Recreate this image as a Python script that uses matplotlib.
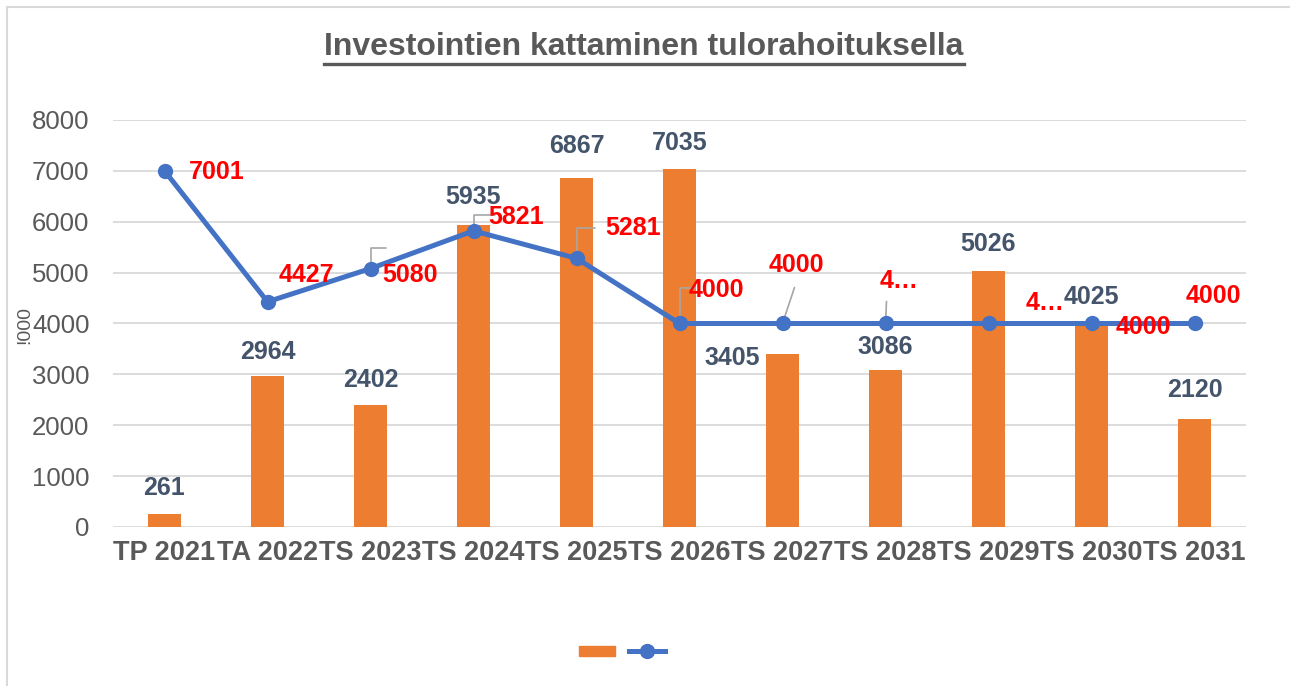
import numpy as np
import matplotlib
matplotlib.use("Agg")
import matplotlib.pyplot as plt
from matplotlib.patches import Rectangle, Patch
from matplotlib.lines import Line2D

# data
kategoriat = ["TP 2021", "TA 2022", "TS 2023", "TS 2024", "TS 2025", "TS 2026",
              "TS 2027", "TS 2028", "TS 2029", "TS 2030", "TS 2031"]
investoinnit = [261, 2964, 2402, 5935, 6867, 7035, 3405, 3086, 5026, 4025, 2120]
tulorahoitus = [7001, 4427, 5080, 5821, 5281, 4000, 4000, 4000, 4000, 4000, 4000]
viiva_tekstit = ["7001", "4427", "5080", "5821", "5281", "4000", "4000", "4…", "4…", "4000", "4000"]

# label offsets in pixels (x, y up)
pylvas_siirto = [(0, 26), (0, 24), (0, 25), (0, 28), (0, 32), (0, 26),
                 (-50, -4), (0, 23), (0, 27), (0, 25), (0, 29)]
viiva_siirto = [(52, -1), (39, 27), (40, -6), (43, 14), (57, 30), (37, 33),
                (14, 58), (14, 42), (57, 20), (52, -4), (19, 27)]
# leader lines: index -> (start offset, elbow?)
johtoviivat = {2: ((15, 21), True), 3: ((21, 16), True), 4: ((18, 30), True),
               5: ((15, 35), True), 6: ((12, 36), False), 7: ((1, 22), False)}

plt.rcParams['font.family'] = ['Liberation Sans', 'DejaVu Sans']

fig = plt.figure(figsize=(12.9, 6.86), dpi=100)
ax = fig.add_axes([113/1290, 1-527/686, (1246-113)/1290, (527-120)/686])

x = np.arange(len(kategoriat))
ax.bar(x, investoinnit, width=0.32, color='#ED7D31', zorder=2)
ax.plot(x, tulorahoitus, color='#4472C4', lw=3.6, marker='o', markersize=10,
        solid_capstyle='round', zorder=4)

ax.set_xlim(-0.5, len(kategoriat) - 0.5)
ax.set_ylim(0, 8000)
ax.set_yticks(range(0, 8001, 1000))
ax.yaxis.grid(True, color='#D9D9D9', lw=1.3)
ax.set_axisbelow(True)
for s in ax.spines.values():
    s.set_visible(False)
ax.tick_params(axis='both', length=0)
ax.tick_params(axis='y', labelsize=18.5, labelcolor='#595959', pad=17)
ax.set_xticks(x)
ax.set_xticklabels(kategoriat, fontsize=19.5, fontweight='bold', color='#595959')
ax.tick_params(axis='x', pad=9)

for i, v in enumerate(investoinnit):
    ax.annotate(str(v), (x[i], v), xytext=pylvas_siirto[i], textcoords='offset pixels',
                ha='center', va='center', fontsize=18, fontweight='bold',
                color='#44546A', zorder=5)

for i, (alku, kulma) in johtoviivat.items():
    cs = 'angle,angleA=0,angleB=90,rad=0' if kulma else 'arc3'
    ax.annotate('', (x[i], tulorahoitus[i]), xytext=alku, textcoords='offset pixels',
                arrowprops=dict(arrowstyle='-', color='#A6A6A6', lw=1.2,
                                shrinkA=0, shrinkB=0, connectionstyle=cs),
                zorder=3)

for i, v in enumerate(tulorahoitus):
    ax.annotate(viiva_tekstit[i], (x[i], v), xytext=viiva_siirto[i], textcoords='offset pixels',
                ha='center', va='center', fontsize=18, fontweight='bold',
                color='#FF0000', zorder=6)

# title with underline
otsikko = fig.text(644/1290, 1-47/686, "Investointien kattaminen tulorahoituksella",
                   ha='center', va='center', fontsize=23, fontweight='bold', color='#595959')
fig.canvas.draw()
bb = otsikko.get_window_extent().transformed(fig.transFigure.inverted())
fig.add_artist(Line2D([bb.x0, bb.x1], [1-64/686, 1-64/686], color='#595959', lw=2.4,
                      transform=fig.transFigure))

fig.text(25/1290, 1-325/686, "!000", rotation=90, ha='center', va='center',
         fontsize=14, color='#595959')

kasvot = [Patch(color='#ED7D31'),
          Line2D([], [], color='#4472C4', lw=3.6, marker='o', markersize=10)]
fig.legend(kasvot, ['', ''], loc='center', bbox_to_anchor=(622/1290, 1-652/686),
           ncol=2, frameon=False, handlelength=2.6, handletextpad=0, columnspacing=1.0)

fig.add_artist(Rectangle((7/1290, -0.1), 1.5, 1-7/686+0.1, transform=fig.transFigure,
                         fill=False, edgecolor='#D9D9D9', lw=1.5))

fig.savefig('out.png', dpi=100)
